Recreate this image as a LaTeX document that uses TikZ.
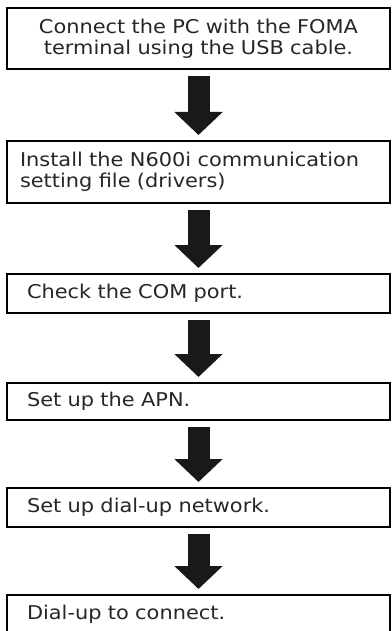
\documentclass[tikz,border=0pt]{standalone}
\usepackage{fontspec}
\setmainfont[FakeStretch=1.1]{DejaVu Sans}
\usetikzlibrary{arrows.meta}

\begin{document}
\begin{tikzpicture}[x=0.5pt, y=-0.5pt,
    font=\fontsize{9.5pt}{10.5pt}\selectfont,
    stepbox/.style={draw, line width=1pt, anchor=north, text=black!85,
      minimum width=191.5pt, text width=171.5pt, inner xsep=10pt, align=left},
    flowarrow/.style={draw=black!90, line width=11pt,
      -{Triangle[width=23.5pt, length=11.5pt]},
      shorten <=3pt, shorten >=2.5pt}]
  \useasboundingbox (0,0) rectangle (391,631);
  % --- Steps ---
  \node[stepbox, minimum height=30.5pt, align=center] (conn) at (198.5,7)
    {Connect the PC with the FOMA\\terminal using the USB cable.};
  \node[stepbox, minimum height=31pt, inner xsep=6.5pt, text width=178.5pt] (inst) at (198.5,140)
    {Install the N600i communication\\setting file (drivers)};
  \node[stepbox, minimum height=19.5pt] (com) at (198.5,273) {Check the COM port.};
  \node[stepbox, minimum height=18.5pt] (apn) at (198.5,382) {Set up the APN.};
  \node[stepbox, minimum height=19.5pt] (dun) at (198.5,487) {Set up dial-up network.};
  \node[stepbox, minimum height=19.5pt] (dial) at (198.5,594) {Dial-up to connect.};
  % --- Arrows ---
  \draw[flowarrow] (conn.south) -- (inst.north);
  \draw[flowarrow] (inst.south) -- (com.north);
  \draw[flowarrow] (com.south) -- (apn.north);
  \draw[flowarrow] (apn.south) -- (dun.north);
  \draw[flowarrow] (dun.south) -- (dial.north);
\end{tikzpicture}
\end{document}
